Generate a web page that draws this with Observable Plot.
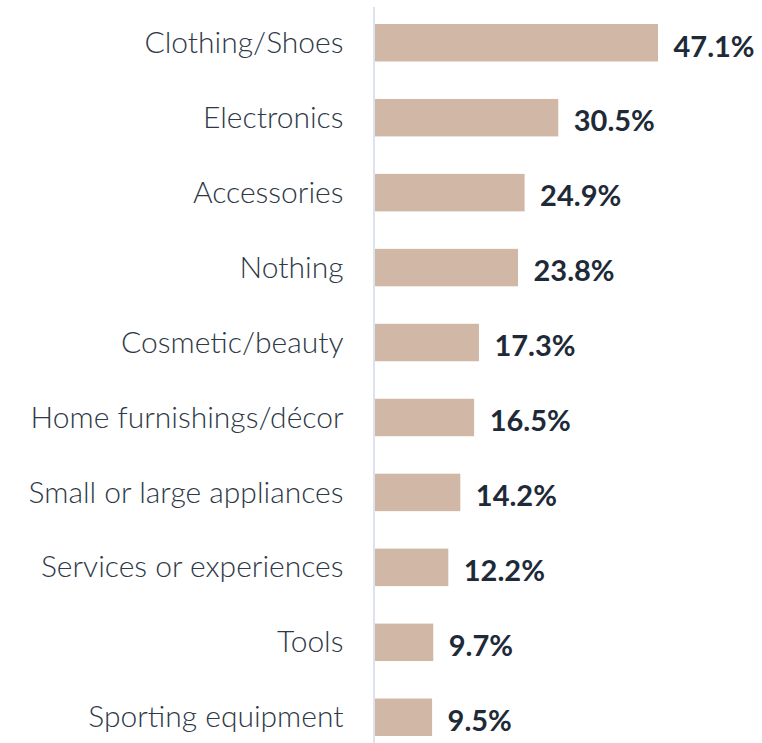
<!DOCTYPE html>
<html>
<head>
<meta charset="utf-8">
<script src="https://cdn.jsdelivr.net/npm/d3@7"></script>
<script src="https://cdn.jsdelivr.net/npm/@observablehq/plot@0.6"></script>
<style>
  html, body { margin: 0; padding: 0; background: #fff; }
  #chart svg { display: block; }
</style>
</head>
<body>
<div id="chart"></div>
<script>
const categories = [
  "Clothing/Shoes",
  "Electronics",
  "Accessories",
  "Nothing",
  "Cosmetic/beauty",
  "Home furnishings/décor",
  "Small or large appliances",
  "Services or experiences",
  "Tools",
  "Sporting equipment"
];
const values = [47.1, 30.5, 24.9, 23.8, 17.3, 16.5, 14.2, 12.2, 9.7, 9.5];

const data = categories.map((c, i) => ({category: c, value: values[i]}));

const chart = Plot.plot({
  width: 762,
  height: 743,
  marginLeft: 375,
  marginRight: 104,
  marginTop: 7,
  marginBottom: 0,
  style: {fontFamily: "Lato, 'Open Sans', sans-serif", background: "#fff"},
  x: {domain: [0, 47.1], axis: null},
  y: {domain: categories, range: [24, 736], paddingInner: 0.5, paddingOuter: 0, round: false, label: null},
  marks: [
    Plot.barX(data, {y: "category", x: "value", fill: "#d1b8a6"}),
    Plot.ruleX([0], {stroke: "#dde3ee", strokeWidth: 2, dx: -1.5}),
    Plot.axisY({tickSize: 0, tickPadding: 32, fontSize: 30, fontWeight: 300, fill: "#2e3846", label: null}),
    Plot.text(data, {
      y: "category", x: "value", text: d => d.value.toFixed(1) + "%",
      textAnchor: "start", dx: 15, dy: 4, fontSize: 29, fontWeight: "bold", fill: "#1e2a38"
    })
  ]
});
document.getElementById("chart").appendChild(chart);
</script>
</body>
</html>
